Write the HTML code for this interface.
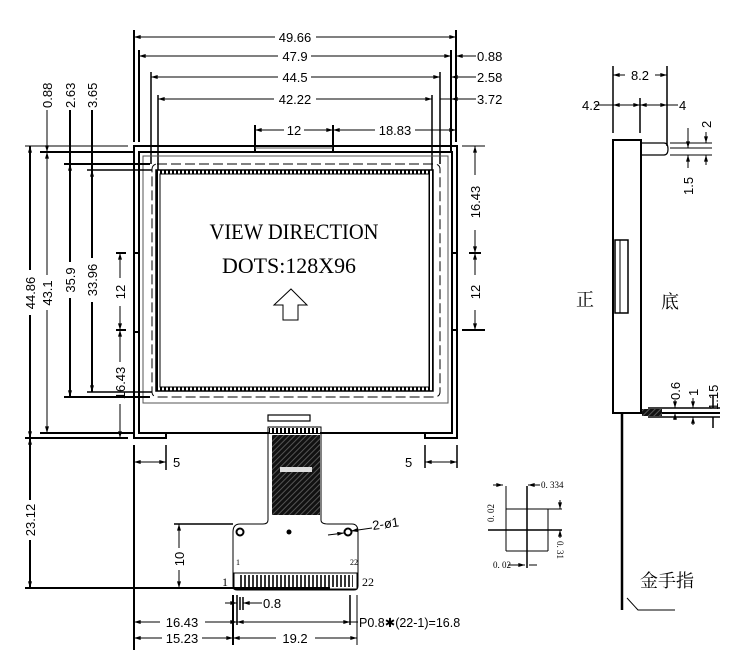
<!DOCTYPE html>
<html><head><meta charset="utf-8"><style>
html,body{margin:0;padding:0;background:#fff;}
svg{display:block;}
text{font-family:"Liberation Sans","Noto Sans CJK SC",sans-serif;fill:#000;}
.s{font-family:"Liberation Serif","Noto Serif CJK SC",serif;}
.c{font-family:"Noto Serif CJK SC","Noto Sans CJK SC",serif;}
</style></head><body>
<svg width="738" height="657" viewBox="0 0 738 657" xmlns="http://www.w3.org/2000/svg" font-size="13">
<defs>
<marker id="a" viewBox="0 0 10 6" refX="10" refY="3" markerWidth="8" markerHeight="4" orient="auto-start-reverse" markerUnits="userSpaceOnUse"><path d="M0,0L10,3L0,6z" fill="#000"/></marker>
<pattern id="h" width="4" height="4" patternUnits="userSpaceOnUse"><rect width="4" height="4" fill="#fff"/><rect width="2" height="4" fill="#000"/></pattern>
<pattern id="d" width="4" height="4" patternUnits="userSpaceOnUse" patternTransform="rotate(45)"><rect width="4" height="4" fill="#111"/><rect width="1" height="4" fill="#555"/></pattern>
</defs>
<g stroke="#000" fill="none" stroke-width="1">
<line x1="134" y1="30" x2="134" y2="142" stroke-width="2"/>
<line x1="456" y1="30" x2="456" y2="142" stroke-width="2"/>
<line x1="139" y1="50" x2="139" y2="142" stroke-width="2"/>
<line x1="451" y1="50" x2="451" y2="152" stroke-width="2"/>
<line x1="151" y1="72" x2="151" y2="164" stroke-width="1.5"/>
<line x1="440" y1="72" x2="440" y2="164" stroke-width="1.5"/>
<line x1="158" y1="95" x2="158" y2="170" stroke-width="1.5"/>
<line x1="432" y1="95" x2="432" y2="170" stroke-width="1.5"/>
<line x1="255" y1="125" x2="255" y2="152" stroke-width="2"/>
<line x1="333" y1="125" x2="333" y2="152" stroke-width="2"/>
<line x1="134" y1="37" x2="275" y2="37" marker-start="url(#a)"/><line x1="316" y1="37" x2="456" y2="37" marker-end="url(#a)"/>
<line x1="139" y1="56" x2="278" y2="56" marker-start="url(#a)"/><line x1="311" y1="56" x2="451" y2="56" marker-end="url(#a)"/>
<line x1="456" y1="56" x2="476" y2="56" marker-start="url(#a)"/>
<line x1="151" y1="77" x2="278" y2="77" marker-start="url(#a)"/><line x1="311" y1="77" x2="440" y2="77" marker-end="url(#a)"/>
<line x1="451" y1="77" x2="476" y2="77" marker-start="url(#a)"/>
<line x1="158" y1="99" x2="274" y2="99" marker-start="url(#a)"/><line x1="316" y1="99" x2="432" y2="99" marker-end="url(#a)"/>
<line x1="440" y1="99" x2="451" y2="99"/><line x1="451" y1="99" x2="476" y2="99" marker-start="url(#a)"/>
<line x1="255" y1="130" x2="284" y2="130" marker-start="url(#a)"/><line x1="304" y1="130" x2="333" y2="130" marker-end="url(#a)"/>
<line x1="333" y1="130" x2="375" y2="130" marker-start="url(#a)"/><line x1="415" y1="130" x2="456" y2="130" marker-end="url(#a)"/>
<path d="M134,146 H457 V438 H425 V433 H166 V438 H134 Z" stroke-width="2"/>
<rect x="139" y="152" width="313" height="281" stroke-width="2"/>
<rect x="143" y="156" width="305" height="247" stroke="#555"/>
<line x1="255" y1="148" x2="333" y2="148" stroke="#555"/>
<rect x="152" y="164" width="288" height="233" rx="5" stroke-dasharray="10,4"/>
<line x1="134" y1="253" x2="139" y2="253" stroke-width="2"/><line x1="134" y1="332" x2="139" y2="332" stroke-width="2"/>
<line x1="452" y1="253" x2="457" y2="253" stroke-width="2"/><line x1="452" y1="330" x2="457" y2="330" stroke-width="2"/>
</g>
<rect x="156" y="170" width="277" height="221" fill="url(#h)" stroke="#000" stroke-width="1.5"/>
<rect x="160" y="174" width="269" height="213" fill="#fff" stroke="#000"/>
<text class="s" x="294" y="239" text-anchor="middle" font-size="22" textLength="169" lengthAdjust="spacingAndGlyphs">VIEW DIRECTION</text>
<text class="s" x="289" y="273" text-anchor="middle" font-size="22" textLength="134" lengthAdjust="spacingAndGlyphs">DOTS:128X96</text>
<path d="M291,289 L307,305 L298,305 L298,320 L283,320 L283,305 L274,305 Z" fill="none" stroke="#000"/>
<g stroke="#000" fill="none" stroke-width="1">
<line x1="25" y1="146" x2="128" y2="146"/>
<line x1="40" y1="152" x2="134" y2="152" stroke-width="2"/>
<line x1="64" y1="164" x2="150" y2="164" stroke-width="2"/>
<line x1="87" y1="170" x2="152" y2="170" stroke-width="1.5"/>
<line x1="64" y1="397" x2="150" y2="397" stroke-width="2"/>
<line x1="87" y1="392" x2="152" y2="392" stroke-width="1.5"/>
<line x1="40" y1="433" x2="134" y2="433" stroke-width="2"/>
<line x1="25" y1="438" x2="128" y2="438" stroke-width="2"/>
<line x1="47" y1="110" x2="47" y2="152" marker-end="url(#a)"/>
<line x1="70" y1="110" x2="70" y2="164" stroke-width="2"/>
<line x1="92" y1="110" x2="92" y2="170" stroke-width="2"/>
<line x1="30" y1="146" x2="30" y2="270" marker-start="url(#a)" stroke-width="2"/><line x1="30" y1="315" x2="30" y2="438" marker-end="url(#a)" stroke-width="2"/>
<line x1="47" y1="152" x2="47" y2="275" marker-start="url(#a)"/><line x1="47" y1="310" x2="47" y2="433" marker-end="url(#a)"/>
<line x1="70" y1="164" x2="70" y2="262" marker-start="url(#a)" stroke-width="2"/><line x1="70" y1="298" x2="70" y2="397" marker-end="url(#a)" stroke-width="2"/>
<line x1="92" y1="170" x2="92" y2="258" marker-start="url(#a)" stroke-width="2"/><line x1="92" y1="302" x2="92" y2="392" marker-end="url(#a)" stroke-width="2"/>
<line x1="120" y1="253" x2="120" y2="278" marker-start="url(#a)"/><line x1="120" y1="306" x2="120" y2="330" marker-end="url(#a)"/>
<line x1="120" y1="330" x2="120" y2="362" marker-start="url(#a)"/><line x1="120" y1="404" x2="120" y2="438" marker-end="url(#a)"/>
<line x1="116" y1="253" x2="126" y2="253" stroke-width="2"/><line x1="116" y1="330" x2="126" y2="330" stroke-width="2"/>
<line x1="30" y1="438" x2="30" y2="500" marker-start="url(#a)" stroke-width="2"/><line x1="30" y1="540" x2="30" y2="588" marker-end="url(#a)" stroke-width="2"/>
<line x1="25" y1="588" x2="330" y2="588" stroke-width="2"/>
<line x1="462" y1="146" x2="485" y2="146"/>
<line x1="462" y1="330" x2="485" y2="330" stroke-width="2"/>
<line x1="469" y1="253" x2="481" y2="253" stroke-width="2"/>
<line x1="475" y1="146" x2="475" y2="175" marker-start="url(#a)"/><line x1="475" y1="230" x2="475" y2="253" marker-end="url(#a)"/>
<line x1="475" y1="253" x2="475" y2="275" marker-start="url(#a)"/><line x1="475" y1="310" x2="475" y2="330" marker-end="url(#a)"/>
<line x1="134" y1="445" x2="134" y2="650" stroke-width="2"/>
<line x1="166" y1="445" x2="166" y2="470" stroke-width="1.5"/>
<line x1="134" y1="462" x2="166" y2="462" marker-start="url(#a)" marker-end="url(#a)"/>
<line x1="425" y1="445" x2="425" y2="468" stroke-width="1.5"/>
<line x1="457" y1="445" x2="457" y2="468" stroke-width="1.5"/>
<line x1="425" y1="462" x2="457" y2="462" marker-start="url(#a)" marker-end="url(#a)"/>
<rect x="268" y="415" width="42" height="6" stroke-width="1.2"/>
<path d="M268,427 H321 V520 Q321,524 328,524 H352 Q358,524 358,532 V586 Q358,590 354,590 H237 Q233,590 233,586 V532 Q233,524 240,524 H263 Q268,524 268,520 Z" stroke-width="1"/>
<line x1="174" y1="524" x2="233" y2="524" stroke-width="1.5"/>
<line x1="179" y1="524" x2="179" y2="548" marker-start="url(#a)"/><line x1="179" y1="570" x2="179" y2="588" marker-end="url(#a)"/>
<circle cx="240" cy="532" r="3.5" stroke-width="2"/>
<circle cx="348" cy="532" r="3.5" stroke-width="2"/>
<rect x="234" y="573" width="123" height="16" stroke-width="1"/>
<line x1="328" y1="535" x2="344" y2="533" marker-end="url(#a)"/>
<line x1="351" y1="531" x2="372" y2="528" marker-start="url(#a)"/>
<line x1="233" y1="595" x2="233" y2="645" stroke-width="2"/>
<line x1="237" y1="595" x2="237" y2="625" stroke-width="1.5"/>
<line x1="240" y1="597" x2="240" y2="610" stroke-width="1.5"/>
<line x1="243" y1="597" x2="243" y2="610" stroke-width="1.5"/>
<line x1="350" y1="595" x2="350" y2="625" stroke-width="1.5"/>
<line x1="357" y1="595" x2="357" y2="645" stroke-width="1"/>
<line x1="225" y1="603" x2="237" y2="603" marker-end="url(#a)"/>
<line x1="243" y1="603" x2="262" y2="603" marker-start="url(#a)"/>
<line x1="134" y1="622" x2="160" y2="622" marker-start="url(#a)"/><line x1="205" y1="622" x2="237" y2="622" marker-end="url(#a)"/>
<line x1="237" y1="622" x2="350" y2="622" marker-start="url(#a)" marker-end="url(#a)"/>
<line x1="350" y1="622" x2="358" y2="622"/>
<line x1="134" y1="638" x2="162" y2="638" marker-start="url(#a)"/><line x1="202" y1="638" x2="233" y2="638" marker-end="url(#a)"/>
<line x1="233" y1="638" x2="276" y2="638" marker-start="url(#a)"/><line x1="315" y1="638" x2="357" y2="638" marker-end="url(#a)"/>
</g>
<rect x="272" y="435" width="48" height="80" fill="url(#d)"/>
<rect x="280" y="467" width="32" height="5" fill="#ddd"/>
<rect x="269" y="428" width="51" height="5" fill="url(#h)"/>
<circle cx="289" cy="532" r="2.5" fill="#000"/>
<rect x="238" y="575" width="115" height="12" fill="url(#h)" opacity="0.8"/>
<text x="295" y="42" text-anchor="middle">49.66</text>
<text x="295" y="61" text-anchor="middle">47.9</text>
<text x="295" y="82" text-anchor="middle">44.5</text>
<text x="295" y="104" text-anchor="middle">42.22</text>
<text x="294" y="135" text-anchor="middle">12</text>
<text x="395" y="135" text-anchor="middle">18.83</text>
<text x="477" y="61">0.88</text>
<text x="477" y="82">2.58</text>
<text x="477" y="104">3.72</text>
<text transform="translate(52,108) rotate(-90)">0.88</text>
<text transform="translate(75,108) rotate(-90)">2.63</text>
<text transform="translate(97,108) rotate(-90)">3.65</text>
<text transform="translate(35,293) rotate(-90)" text-anchor="middle">44.86</text>
<text transform="translate(52,293) rotate(-90)" text-anchor="middle">43.1</text>
<text transform="translate(75,280) rotate(-90)" text-anchor="middle">35.9</text>
<text transform="translate(97,280) rotate(-90)" text-anchor="middle">33.96</text>
<text transform="translate(125,292) rotate(-90)" text-anchor="middle">12</text>
<text transform="translate(125,383) rotate(-90)" text-anchor="middle">16.43</text>
<text transform="translate(35,520) rotate(-90)" text-anchor="middle">23.12</text>
<text transform="translate(480,202) rotate(-90)" text-anchor="middle">16.43</text>
<text transform="translate(480,292) rotate(-90)" text-anchor="middle">12</text>
<text transform="translate(184,559) rotate(-90)" text-anchor="middle">10</text>
<text x="173" y="467">5</text>
<text x="405" y="467">5</text>
<text x="373" y="530" transform="rotate(-8 373 530)">2-ø1</text>
<text x="263" y="608">0.8</text>
<text x="182" y="627" text-anchor="middle">16.43</text>
<text x="182" y="643" text-anchor="middle">15.23</text>
<text x="295" y="643" text-anchor="middle">19.2</text>
<text x="359" y="627" font-size="12.5">P0.8✱(22-1)=16.8</text>
<text class="s" x="222" y="586" font-size="12">1</text>
<text class="s" x="362" y="586" font-size="12">22</text>
<text class="s" x="236" y="565" font-size="8">1</text>
<text class="s" x="350" y="565" font-size="8">22</text>
<g stroke="#000" fill="none" stroke-width="1">
<line x1="506" y1="486" x2="506" y2="551"/>
<line x1="527" y1="486" x2="527" y2="568" stroke-width="1.5"/>
<line x1="548" y1="509" x2="548" y2="551"/>
<line x1="506" y1="509" x2="562" y2="509"/>
<line x1="488" y1="530" x2="562" y2="530" stroke-width="1.5"/>
<line x1="506" y1="551" x2="548" y2="551"/>
<line x1="493" y1="485" x2="503" y2="485" marker-end="url(#a)"/>
<line x1="528" y1="485" x2="540" y2="485" marker-start="url(#a)"/>
<line x1="560" y1="500" x2="560" y2="509" marker-end="url(#a)"/>
<line x1="560" y1="530" x2="560" y2="538" marker-start="url(#a)"/>
<line x1="508" y1="565" x2="525" y2="565" marker-end="url(#a)"/>
<line x1="529" y1="565" x2="537" y2="565"/>
</g>
<text class="s" x="541" y="488" font-size="9">0. 334</text>
<text class="s" transform="translate(494,522) rotate(-90)" font-size="9">0. 02</text>
<text class="s" transform="translate(557,541) rotate(90)" font-size="9">0. 31</text>
<text class="s" x="493" y="568" font-size="9">0. 02</text>
<g stroke="#000" fill="none" stroke-width="1">
<line x1="613" y1="66" x2="613" y2="133" stroke-width="1.5"/>
<line x1="640" y1="98" x2="640" y2="133" stroke-width="1.5"/>
<line x1="667" y1="66" x2="667" y2="146" stroke-width="1.5"/>
<line x1="613" y1="75" x2="625" y2="75" marker-start="url(#a)"/><line x1="655" y1="75" x2="667" y2="75" marker-end="url(#a)"/>
<line x1="595" y1="105" x2="613" y2="105"/>
<line x1="613" y1="105" x2="640" y2="105" marker-start="url(#a)" marker-end="url(#a)"/>
<line x1="640" y1="105" x2="667" y2="105" marker-start="url(#a)" marker-end="url(#a)"/>
<line x1="667" y1="105" x2="678" y2="105"/>
<rect x="613" y="140" width="28" height="273" stroke-width="2"/>
<rect x="615" y="240" width="13" height="73" stroke-width="1.5"/>
<line x1="620" y1="240" x2="620" y2="313"/>
<path d="M642,143 H664 Q668,143 668,149 Q668,155 664,155 H642" stroke-width="1.2"/>
<line x1="670" y1="143" x2="712" y2="143"/>
<line x1="670" y1="148" x2="712" y2="148"/>
<line x1="670" y1="155" x2="712" y2="155"/>
<line x1="688" y1="128" x2="688" y2="148" marker-end="url(#a)"/>
<line x1="688" y1="155" x2="688" y2="168" marker-start="url(#a)"/>
<line x1="706" y1="132" x2="706" y2="143" marker-end="url(#a)"/>
<line x1="706" y1="155" x2="706" y2="165" marker-start="url(#a)"/>
<line x1="640" y1="413" x2="720" y2="413" stroke-width="2"/>
<line x1="648" y1="408" x2="720" y2="408" stroke-width="1.5"/>
<line x1="648" y1="417" x2="720" y2="417" stroke-width="1.5"/>
<line x1="675" y1="400" x2="675" y2="408" marker-end="url(#a)"/>
<line x1="675" y1="413" x2="675" y2="420" marker-start="url(#a)"/>
<line x1="693" y1="398" x2="693" y2="408" marker-end="url(#a)"/>
<line x1="693" y1="417" x2="693" y2="425" marker-start="url(#a)"/>
<line x1="713" y1="395" x2="713" y2="408" stroke-width="1.5"/>
<line x1="713" y1="417" x2="713" y2="428" stroke-width="1.5"/>
<line x1="622" y1="413" x2="622" y2="610" stroke-width="2.5"/>
<path d="M627,598 L638,610 H675"/>
</g>
<rect x="642" y="409" width="20" height="7" fill="url(#d)"/>
<text x="582" y="110">4.2</text>
<text x="679" y="110">4</text>
<text x="640" y="80" text-anchor="middle">8.2</text>
<text transform="translate(711,128) rotate(-90)">2</text>
<text transform="translate(693,195) rotate(-90)">1.5</text>
<text transform="translate(680,400) rotate(-90)">0.6</text>
<text transform="translate(698,396) rotate(-90)">1</text>
<text transform="translate(718,410) rotate(-90)">1.15</text>
<text class="c" x="576" y="306" font-size="18">正</text>
<text class="c" x="661" y="308" font-size="18">底</text>
<text class="c" x="640" y="587" font-size="18">金手指</text>
</svg>
</body></html>
